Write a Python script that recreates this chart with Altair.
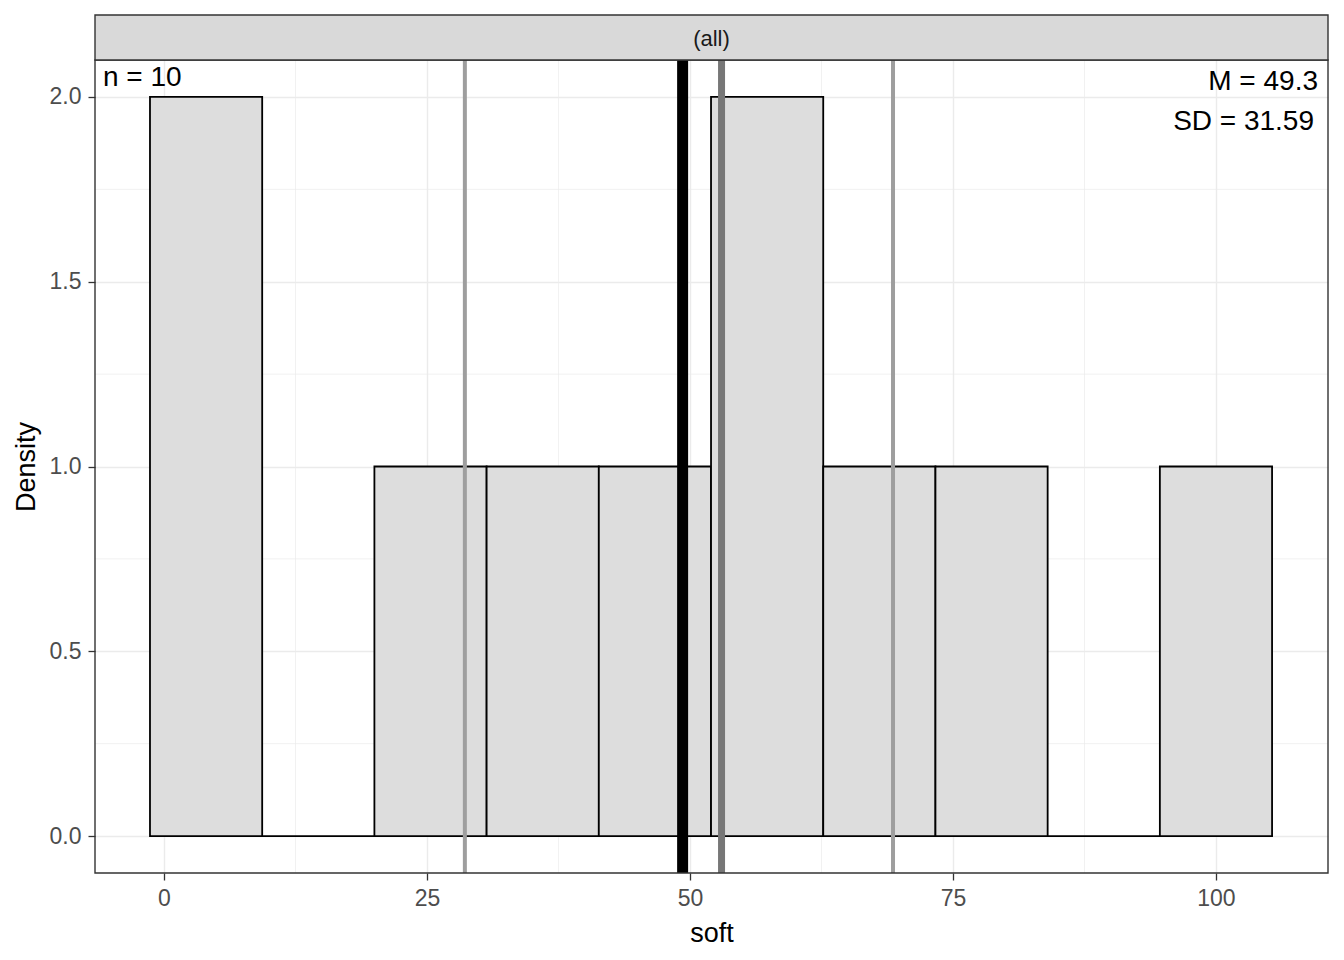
import altair as alt
import pandas as pd

# ---- data ----
bin_start = [-4/3 + i * 32/3 for i in range(10)]
bin_end = [s + 32/3 for s in bin_start]
density = [2, 0, 1, 1, 1, 2, 1, 1, 0, 1]

quartile_values = [28.6, 69.3]
median_value = [53.0]
mean_value = [49.3]

x_major = [0, 25, 50, 75, 100]
x_minor = [12.5, 37.5, 62.5, 87.5]
y_major = [0.0, 0.5, 1.0, 1.5, 2.0]
y_minor = [0.25, 0.75, 1.25, 1.75]

n_label = "n = 10"
m_label = "M = 49.3"
sd_label = "SD = 31.59"
strip_label = "(all)"

W, H = 1233, 813
FONT = "Liberation Sans"

bars_df = pd.DataFrame({"x": bin_start, "end": bin_end, "y": density})
q_df = pd.DataFrame({"x": quartile_values})
med_df = pd.DataFrame({"x": median_value})
mean_df = pd.DataFrame({"x": mean_value})
xminor_df = pd.DataFrame({"x": x_minor})
yminor_df = pd.DataFrame({"y": y_minor})
one = pd.DataFrame({"a": [0]})

xscale = alt.Scale(domain=[-6.56, 110.65], nice=False, zero=False)
yscale = alt.Scale(domain=[-0.1, 2.1], nice=False, zero=False)
xaxis = alt.Axis(values=x_major, format="d", grid=True)
yaxis = alt.Axis(values=y_major, format=".1f", grid=True)


def X(field="x:Q"):
    return alt.X(field, scale=xscale, axis=xaxis, title="soft")


def Y(field="y:Q"):
    return alt.Y(field, scale=yscale, axis=yaxis, title="Density")


minor_x = alt.Chart(xminor_df).mark_rule(color="#EBEBEB", strokeWidth=0.7).encode(x=X())
minor_y = alt.Chart(yminor_df).mark_rule(color="#EBEBEB", strokeWidth=0.7).encode(y=Y())

bars = alt.Chart(bars_df).mark_rect(
    fill="#DDDDDD", stroke="#000000", strokeWidth=1.8
).encode(
    x=X(), x2="end:Q", y=Y(), y2=alt.datum(0),
)

q_lines = alt.Chart(q_df).mark_rule(color="#9E9E9E", strokeWidth=4).encode(x=X())
med_line = alt.Chart(med_df).mark_rule(color="#777777", strokeWidth=7).encode(x=X())
mean_line = alt.Chart(mean_df).mark_rule(color="#000000", strokeWidth=11).encode(x=X())

border = alt.Chart(one).mark_rect(fill=None, stroke="#333333", strokeWidth=1.4).encode(
    x=alt.value(0), x2=alt.value(W), y=alt.value(0), y2=alt.value(H)
)
strip_bg = alt.Chart(one).mark_rect(fill="#D9D9D9", stroke="#333333", strokeWidth=1.4).encode(
    x=alt.value(0), x2=alt.value(W), y=alt.value(-45), y2=alt.value(0)
)
strip_txt = alt.Chart(one).mark_text(
    text=strip_label, font=FONT, fontSize=22, color="#1A1A1A", baseline="middle", align="center"
).encode(x=alt.value(W / 2), y=alt.value(-21))

n_txt = alt.Chart(one).mark_text(
    text=n_label, font=FONT, fontSize=28, color="#000000", align="left", baseline="alphabetic"
).encode(x=alt.value(8), y=alt.value(26))
m_txt = alt.Chart(one).mark_text(
    text=m_label, font=FONT, fontSize=28, color="#000000", align="right", baseline="alphabetic"
).encode(x=alt.value(1223), y=alt.value(30))
sd_txt = alt.Chart(one).mark_text(
    text=sd_label, font=FONT, fontSize=28, color="#000000", align="right", baseline="alphabetic"
).encode(x=alt.value(1219), y=alt.value(70))

chart = alt.layer(
    minor_x, minor_y, bars, q_lines, med_line, mean_line, border,
    strip_bg, strip_txt, n_txt, m_txt, sd_txt
).properties(
    width=W, height=H,
    autosize=alt.AutoSizeParams(type="none"),
    padding={"left": 87, "top": 52, "right": 8, "bottom": 80},
).configure_view(
    stroke=None
).configure_axis(
    domain=False,
    gridColor="#EBEBEB", gridWidth=1.4,
    tickColor="#333333", tickWidth=1.3, tickSize=7,
    labelColor="#4D4D4D", labelFont=FONT, labelFontSize=23,
    titleColor="#000000", titleFont=FONT, titleFontSize=27, titleFontWeight="normal",
).configure_axisX(
    labelPadding=7, titlePadding=10,
).configure_axisY(
    labelPadding=7, titlePadding=9,
)

chart.save("out.html", embed_options={"renderer": "svg", "actions": False})
